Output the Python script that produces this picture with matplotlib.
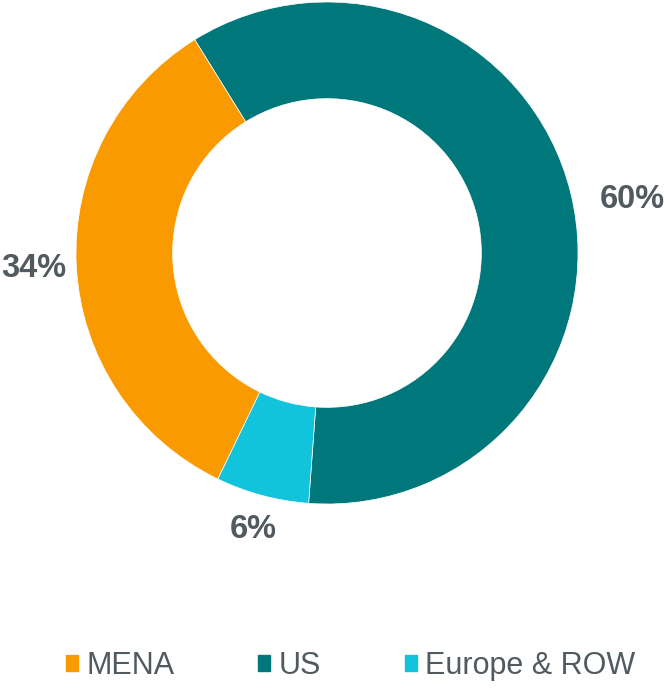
import numpy as np
import matplotlib.pyplot as plt
from matplotlib.patches import Patch

plt.rcParams['font.family'] = ['Liberation Sans', 'DejaVu Sans']

# order as drawn clockwise from the top-left
regions = ['US', 'Europe & ROW', 'MENA']
shares = [60, 6, 34]
colors = ['#00777A', '#12C3DC', '#F99B00']
label_dist = [1.235, 1.14, 1.17]
label_shift = [-3.8, 0, 0]  # degrees off the wedge middle

legend_order = ['MENA', 'US', 'Europe & ROW']
text_color = '#515A5E'

fig = plt.figure(figsize=(6.65, 6.92), dpi=100)
ax = fig.add_axes([76 / 665, (692 - 504) / 692, 502 / 665, 502 / 692])

wedges, _ = ax.pie(shares, colors=colors, startangle=121.8, counterclock=False,
                   radius=1, wedgeprops=dict(width=0.385, edgecolor='white', linewidth=0.5))
ax.set_xlim(-1, 1)
ax.set_ylim(-1, 1)
ax.set_aspect('equal')
ax.axis('off')

for w, v, d, s in zip(wedges, shares, label_dist, label_shift):
    mid = np.deg2rad((w.theta1 + w.theta2) / 2 + s)
    ax.text(d * np.cos(mid), d * np.sin(mid), '{}%'.format(v), ha='center', va='center',
            fontsize=23.5, fontweight='bold', color=text_color, clip_on=False)

handles = [Patch(color=colors[regions.index(r)]) for r in legend_order]
leg = fig.legend(handles, legend_order, loc='center', bbox_to_anchor=(0.527, 1 - 666 / 692),
                 ncol=3, frameon=False, fontsize=22, handlelength=0.4, handleheight=0.4,
                 handletextpad=0.26, columnspacing=2.75)
for t in leg.get_texts():
    t.set_color(text_color)

fig.savefig('out.png', dpi=100)
